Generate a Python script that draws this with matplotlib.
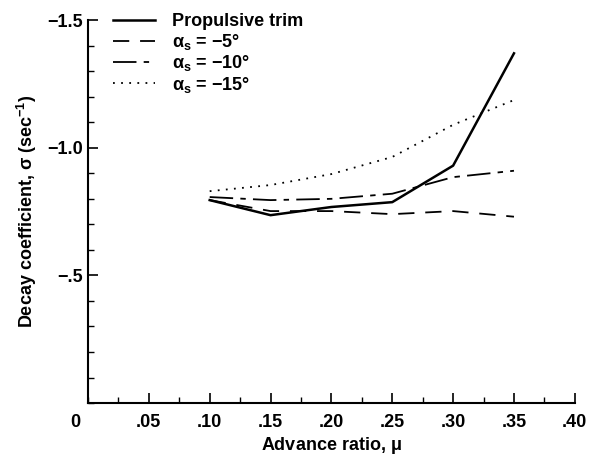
import matplotlib
matplotlib.use("Agg")
import matplotlib.pyplot as plt
from matplotlib.ticker import MultipleLocator, FixedLocator

# advance ratio and decay coefficient (1/sec) for each trim condition
mu = [0.10, 0.15, 0.20, 0.25, 0.30, 0.35]
sigma_prop = [-0.795, -0.736, -0.768, -0.787, -0.93, -1.37]
sigma_a5 = [-0.795, -0.752, -0.752, -0.74, -0.752, -0.73]
sigma_a10 = [-0.807, -0.795, -0.80, -0.82, -0.885, -0.91]
sigma_a15 = [-0.83, -0.854, -0.897, -0.964, -1.09, -1.187]

labels = ["Propulsive trim",
          r"$\mathbf{\alpha_s}$ = $-$5$\degree$",
          r"$\mathbf{\alpha_s}$ = $-$10$\degree$",
          r"$\mathbf{\alpha_s}$ = $-$15$\degree$"]

xticks = [0.05, 0.10, 0.15, 0.20, 0.25, 0.30, 0.35, 0.40]
xticklabels = [".05", ".10", ".15", ".20", ".25", ".30", ".35", ".40"]
yticks = [-1.5, -1.0, -0.5]
yticklabels = ["\u22121.5", "\u22121.0", "\u2212.5"]

plt.rcParams["font.family"] = ["Liberation Sans", "DejaVu Sans"]
plt.rcParams["font.weight"] = "bold"
plt.rcParams["mathtext.fontset"] = "custom"
plt.rcParams["mathtext.rm"] = "Liberation Sans:bold"
plt.rcParams["mathtext.it"] = "Liberation Sans:bold"
plt.rcParams["mathtext.bf"] = "Liberation Sans:bold"

fs = 13

fig = plt.figure(figsize=(5.92, 4.58), dpi=100)
ax = fig.add_axes([0.1486, 0.120, 0.8224, 0.836])

ax.plot(mu, sigma_prop, color="black", lw=1.8, ls="-", label=labels[0])
ax.plot(mu, sigma_a5, color="black", lw=1.3, ls=(0, (9, 6)), label=labels[1])
ax.plot(mu, sigma_a10, color="black", lw=1.3, ls=(0, (13, 4, 3, 4)), label=labels[2])
ax.plot(mu, sigma_a15, color="black", lw=1.3, ls=(0, (1, 3.5)), label=labels[3])

ax.set_xlim(0, 0.40)
ax.set_ylim(0, -1.5)

ax.xaxis.set_major_locator(FixedLocator(xticks))
ax.set_xticklabels(xticklabels)
ax.xaxis.set_minor_locator(MultipleLocator(0.025))
ax.yaxis.set_major_locator(FixedLocator(yticks))
ax.set_yticklabels(yticklabels)
ax.yaxis.set_minor_locator(MultipleLocator(0.1))

ax.tick_params(which="major", direction="in", length=7, width=1.2,
               labelsize=fs)
ax.tick_params(axis="x", which="major", pad=8)
ax.tick_params(axis="y", which="major", pad=3.5)
ax.tick_params(which="minor", direction="in", length=4, width=1.0)

for side in ("top", "right"):
    ax.spines[side].set_visible(False)
for side in ("left", "bottom"):
    ax.spines[side].set_linewidth(1.5)

# shared origin label
ax.text(-0.027, -0.052, "0", transform=ax.transAxes, fontsize=fs,
        fontweight="bold", ha="center", va="center")

ax.set_xlabel(r"Advance ratio, $\mu$", fontsize=fs, fontweight="bold", labelpad=3)
ax.set_ylabel(r"Decay coefficient, $\sigma$ (sec$^{-1}$)", fontsize=fs,
              fontweight="bold", labelpad=6)

leg = ax.legend(loc="upper left", bbox_to_anchor=(0.018, 1.06), frameon=False,
                fontsize=fs, handlelength=2.3, handletextpad=0.95,
                labelspacing=0.08)

fig.savefig("out.png", dpi=100)
